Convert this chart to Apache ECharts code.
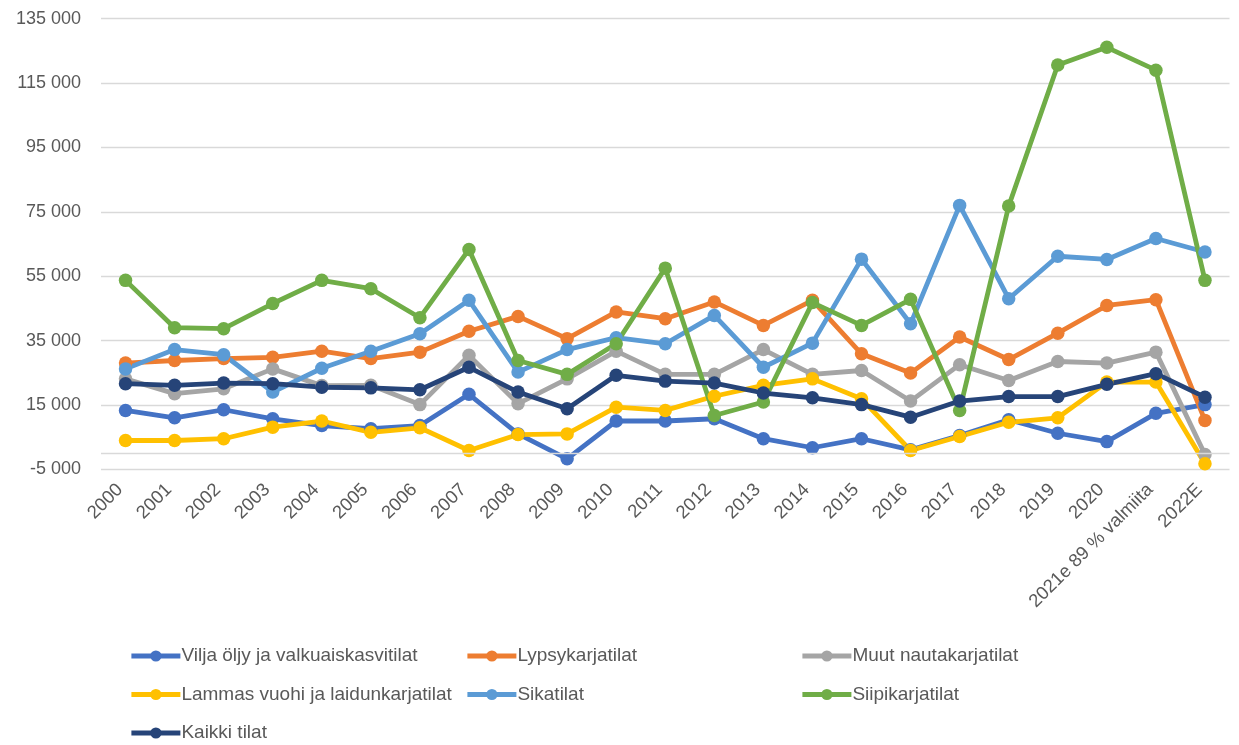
<!DOCTYPE html>
<html><head><meta charset="utf-8">
<script src="https://cdn.jsdelivr.net/npm/echarts@6/dist/echarts.min.js"></script>
<style>html,body{margin:0;padding:0;background:#fff}#c{width:1239px;height:745px}</style>
</head><body><div id="c"></div>
<script>
const categories = ['2000','2001','2002','2003','2004','2005','2006','2007','2008','2009','2010','2011','2012','2013','2014','2015','2016','2017','2018','2019','2020','2021e 89 % valmiita','2022E'];
const vilja   = [13300,11000,13500,10700,8600,7600,8600,18300,6000,-1750,10000,10000,10700,4500,1700,4500,1050,5500,10400,6200,3600,12400,15100];
const lypsy   = [28000,28800,29400,29800,31700,29400,31400,37900,42500,35600,43900,41800,47000,39700,47500,30900,24900,36100,29100,37300,45900,47700,10200];
const muut    = [23100,18500,20000,26200,21000,21100,15100,30400,15400,23100,31700,24500,24500,32200,24500,25700,16200,27500,22600,28500,28000,31400,-400];
const lammas  = [3950,3950,4500,8100,10000,6500,7900,840,5800,6000,14300,13300,17700,21100,23100,16900,840,5200,9600,11000,22100,22100,-3300];
const sika    = [26200,32200,30600,19000,26400,31700,37100,47500,25200,32200,35900,34000,42800,26700,34200,60300,40200,77000,48000,61200,60200,66700,62500];
const siipi   = [53700,39000,38700,46500,53700,51100,42100,63300,28800,24500,34000,57500,11700,15900,46800,39700,47800,13300,76800,120600,126100,119000,53700];
const kaikki  = [21600,21100,21800,21600,20500,20300,19700,26700,19000,13800,24200,22400,21800,18700,17200,15100,11200,16200,17600,17600,21400,24700,17400];
const yTicks = {min:-5000, max:135000, interval:20000};

const names = ['Vilja öljy ja valkuaiskasvitilat','Lypsykarjatilat','Muut nautakarjatilat','Lammas vuohi ja laidunkarjatilat','Sikatilat','Siipikarjatilat','Kaikki tilat'];
const colors = ['#4472C4','#ED7D31','#A5A5A5','#FFC000','#5B9BD5','#70AD47','#264478'];
const datas = [vilja,lypsy,muut,lammas,sika,siipi,kaikki];
const FONT = 'Liberation Sans';

const series = names.map((n,i)=>({
  name:n, type:'line', data:datas[i], symbol:'circle', symbolSize:13.5,
  lineStyle:{width:4.8,color:colors[i]}, itemStyle:{color:colors[i]},
  emphasis:{disabled:true}, animation:false,
  markLine: i===0 ? {silent:true, symbol:'none', label:{show:false},
    lineStyle:{color:'#d9d9d9',width:1.3,type:'solid'}, data:[{yAxis:0}]} : undefined,
  z: 2
}));

const legendCommon = {orient:'vertical', itemWidth:49, itemHeight:14, itemGap:18.5,
  lineStyle:{width:4.8}, itemStyle:{borderWidth:0},
  textStyle:{fontFamily:FONT,fontSize:19,color:'#595959',lineHeight:20,padding:[0,0,0,-4]}, top:646, padding:0, selectedMode:false};

const chart = echarts.init(document.getElementById('c'));
chart.setOption({
  backgroundColor:'#fff', animation:false,
  grid:{left:101,right:9.5,top:18.7,bottom:275.7,containLabel:false},
  xAxis:{type:'category',data:categories,boundaryGap:true,
    axisLine:{show:false},axisTick:{show:false},
    axisLabel:{rotate:45,interval:0,fontFamily:FONT,fontSize:18.5,color:'#595959',margin:12,padding:[0,8,0,0]}},
  yAxis:{type:'value',min:yTicks.min,max:yTicks.max,interval:yTicks.interval,
    axisLine:{show:false},axisTick:{show:false},
    splitLine:{lineStyle:{color:'#d9d9d9',width:1.3}},
    axisLabel:{fontFamily:FONT,fontSize:18,color:'#595959',margin:20,
      formatter:v=>{const s=Math.abs(v).toString().replace(/\B(?=(\d{3})+(?!\d))/g,' ');return (v<0?'-':'')+s;}}},
  legend:[
    Object.assign({left:129,data:[names[0],names[3],names[6]]},legendCommon),
    Object.assign({left:465,data:[names[1],names[4]]},legendCommon),
    Object.assign({left:800,data:[names[2],names[5]]},legendCommon)
  ],
  series
});
</script></body></html>
